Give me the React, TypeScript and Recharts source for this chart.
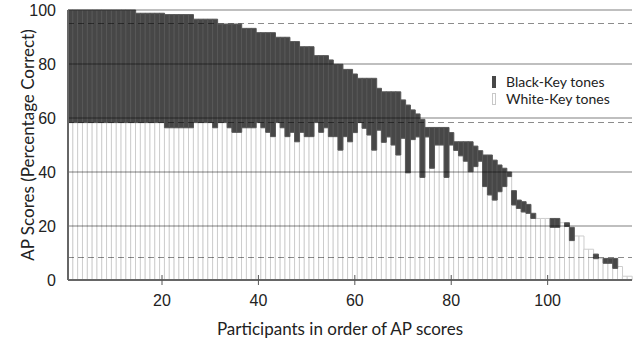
import { BarChart, Bar, XAxis, YAxis, ReferenceLine, Legend } from 'recharts'

// Overall AP score per participant (sorted), percent correct
const TOTAL_SCORES = [
  100, 100, 100, 100, 100, 100, 100, 100, 100, 100, 100, 100, 100, 100,
  98.8, 98.8, 98.8, 98.8, 98.8, 98.8,
  98.3, 98.3, 98.3, 98.3, 98.3, 98.3,
  96.6, 96.6, 96.6, 96.6, 96.6,
  94.8, 94.8, 94.8, 94.8, 94.8,
  93.2, 93.2, 93.2,
  91.6, 91.6, 91.6, 91.6,
  89.9, 89.9, 89.9,
  88.3, 88.3,
  86.4, 86.4, 86.4,
  83.1, 83.1, 83.1,
  81.5, 79.9, 79.9, 78.0, 78.0, 76.3,
  74.7, 74.7, 74.7, 74.7,
  71.0, 69.7, 69.7, 69.7, 69.7,
  66.7, 64.8, 63.0, 61.5, 59.5,
  56.5, 56.5, 56.5, 56.5, 56.5,
  54.6, 51.2, 51.2, 51.2, 51.2,
  49.6, 47.9, 46.3, 46.3, 44.4, 42.6, 41.4, 40.0,
  33.1, 29.6, 29.0, 28.0, 24.7,
  22.8, 22.8, 22.8, 22.8, 22.8,
  21.2, 21.2, 19.5, 16.3, 16.3, 11.4, 11.4,
  9.6, 7.9, 8.0, 8.0, 8.0, 5.0, 1.4, 1.4,
]

// Portion of the score earned on white-key tones (max 58.3 = 7/12)
const WHITE_KEY = [
  58.3, 58.3, 58.3, 58.3, 58.3, 58.3, 58.3, 58.3, 58.3, 58.3, 58.3, 58.3, 58.3, 58.3,
  58.3, 58.3, 58.3, 58.3, 58.3, 58.3,
  56.4, 56.4, 56.4, 56.4, 56.4, 56.4,
  58.3, 58.3, 58.3, 58.3, 56.4,
  58.3, 58.3, 56.4, 54.7, 54.7,
  56.4, 56.4, 56.4,
  58.3, 56.4, 54.7, 53.1,
  58.3, 56.4, 53.1,
  54.7, 51.2,
  54.7, 53.1, 53.1,
  58.3, 54.7, 56.4,
  53.1, 53.1, 48.1, 53.1, 51.2, 54.6,
  58.3, 56.2, 53.7, 48.1,
  55.5, 51.0, 53.0, 50.0, 46.3,
  52.5, 39.7, 52.0, 53.0, 38.0,
  53.0, 41.4, 50.0, 50.0, 38.0,
  50.0, 48.0, 46.0, 44.0, 40.1,
  42.0, 44.0, 34.6, 31.5, 29.6, 32.7, 34.6, 38.3,
  27.8, 26.5, 25.2, 24.7, 22.8,
  22.8, 22.8, 22.8, 19.5, 19.5,
  21.2, 19.8, 14.6, 16.3, 16.3, 11.4, 11.4,
  7.9, 7.9, 6.2, 6.2, 4.3, 5.0, 1.4, 1.4,
]

const Y_TICKS = [0, 20, 40, 60, 80, 100]
const GRID_LINES = [20, 40, 60, 80, 100]
const DASHED_LINES = [95, 58.33, 8.33]
const LEGEND_ITEMS = ['Black-Key tones', 'White-Key tones']

const data = TOTAL_SCORES.map((t, i) => ({
  id: i + 1,
  white: WHITE_KEY[i],
  black: Math.max(0, +(t - WHITE_KEY[i]).toFixed(2)),
}))

const TITLE_FONT = 'Lato, "Open Sans", sans-serif'
const TICK_FONT = '"Liberation Sans", Arial, sans-serif'

function XTick({ x, y, payload }: any) {
  if (payload.value % 20 !== 0) return <g />
  return (
    <g>
      <line x1={x} x2={x} y1={y - 5} y2={y + 5} stroke="#555" strokeWidth={1} />
      <text x={x} y={y + 26} textAnchor="middle" fontSize={16} fill="#222" fontFamily={TICK_FONT}>
        {payload.value}
      </text>
    </g>
  )
}

function KeyLegend() {
  return (
    <div style={{ fontFamily: TITLE_FONT, fontSize: 14, color: '#222', lineHeight: '17px' }}>
      {LEGEND_ITEMS.map((name, i) => (
        <div key={name} style={{ display: 'flex', alignItems: 'center', height: 17 }}>
          <span
            style={{
              width: 4,
              height: 12,
              marginRight: 10,
              background: i === 0 ? '#474747' : '#fff',
              border: i === 0 ? '1px solid #474747' : '1px solid #c8c8c8',
              boxSizing: 'border-box',
            }}
          />
          {name}
        </div>
      ))}
    </div>
  )
}

export default function App() {
  return (
    <div style={{ position: 'absolute', left: 0, top: 0, width: 633, height: 341, background: '#fff' }}>
      <BarChart
        width={633}
        height={341}
        data={data}
        margin={{ top: 10, right: 1, bottom: 0, left: 0 }}
        barCategoryGap={0}
        barGap={0}
      >
        <XAxis
          dataKey="id"
          interval={0}
          tick={<XTick />}
          tickLine={false}
          tickSize={0}
          tickMargin={0}
          height={61}
          axisLine={{ stroke: '#666', strokeWidth: 2 }}
          label={{
            value: 'Participants in order of AP scores',
            position: 'insideBottom',
            offset: 6,
            dx: -10,
            style: { fontFamily: TITLE_FONT, fontSize: 17, fill: '#222' },
          }}
        />
        <YAxis
          type="number"
          domain={[0, 100]}
          ticks={Y_TICKS}
          width={68}
          tickLine={false}
          tickMargin={6}
          axisLine={{ stroke: '#666', strokeWidth: 2 }}
          tick={{ fontSize: 16, fill: '#222', fontFamily: TICK_FONT }}
          label={{
            value: 'AP Scores (Percentage Correct)',
            angle: -90,
            position: 'insideLeft',
            offset: 28,
            style: { textAnchor: 'middle', fontFamily: TITLE_FONT, fontSize: 17, fill: '#222' },
          }}
        />
        <Legend
          layout="horizontal"
          verticalAlign="middle"
          align="center"
          content={<KeyLegend />}
          wrapperStyle={{ left: 492, top: 73, width: 140 }}
        />
        <Bar dataKey="white" stackId="ap" fill="#ffffff" stroke="#cdcdcd" strokeWidth={1} isAnimationActive={false} />
        <Bar dataKey="black" stackId="ap" fill="#474747" stroke="#585858" strokeWidth={1} isAnimationActive={false} />
        {GRID_LINES.map((v) => (
          <ReferenceLine key={v} y={v} stroke="#000" strokeOpacity={0.5} strokeWidth={1} />
        ))}
        {DASHED_LINES.map((v) => (
          <ReferenceLine key={v} y={v} stroke="#000" strokeOpacity={0.45} strokeDasharray="6 4" strokeWidth={1} />
        ))}
      </BarChart>
    </div>
  )
}
